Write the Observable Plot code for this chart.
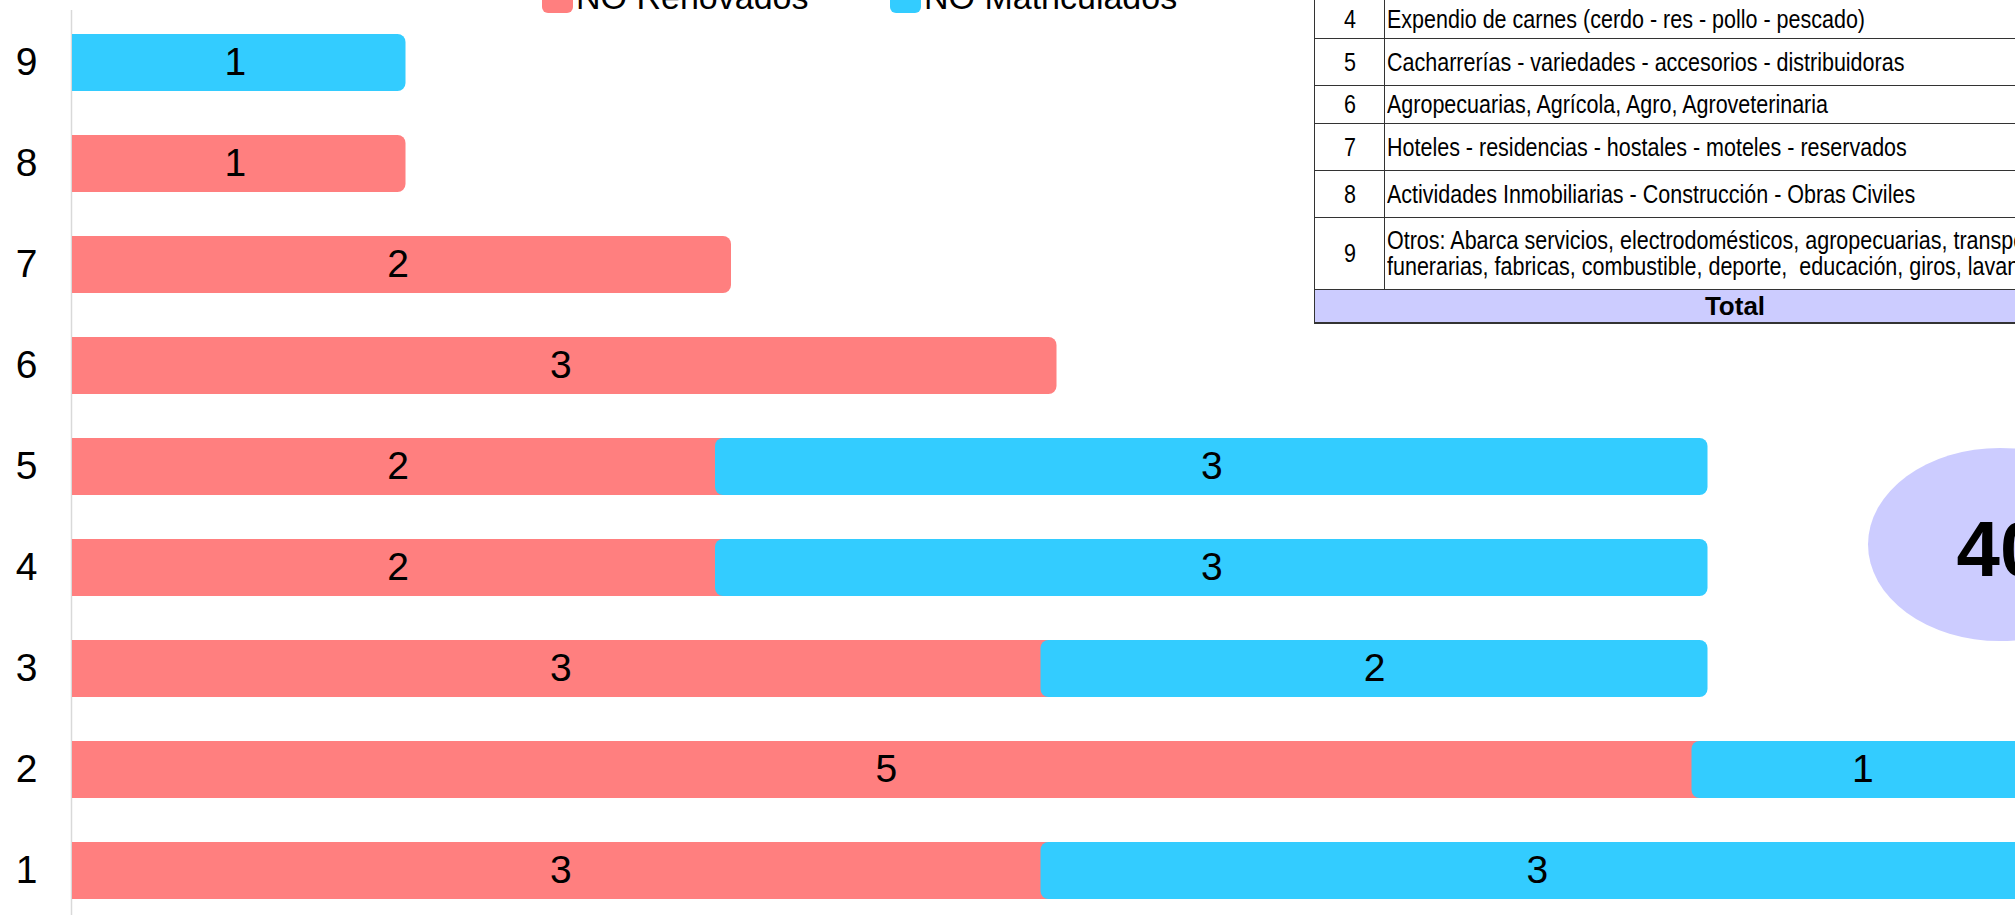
<!DOCTYPE html>
<html>
<head>
<meta charset="utf-8">
<script src="https://cdn.jsdelivr.net/npm/d3@7"></script>
<script src="https://cdn.jsdelivr.net/npm/@observablehq/plot@0.6"></script>
<style>
html,body{margin:0;padding:0;overflow:hidden;background:#fff;width:2015px;height:915px;}
body{position:relative;font-family:"Liberation Sans",Arial,sans-serif;color:#000;}
#chart{position:absolute;left:0;top:0;}
.legend{position:absolute;top:-20px;display:flex;align-items:flex-start;font-size:34px;line-height:34px;white-space:nowrap;}
.legend .sw{width:31px;height:31px;border-radius:6px;margin-top:2px;margin-right:3px;}
#tabla{position:absolute;left:1314px;top:-1.5px;}
#tabla table{border-collapse:collapse;width:842px;font-size:25px;table-layout:fixed;}
#tabla td{border:1.3px solid #333;padding:0 2px;vertical-align:middle;line-height:26px;white-space:nowrap;overflow:visible;}
#tabla td.num{text-align:center;}
#tabla .narrow{display:inline-block;transform:scaleX(0.86);transform-origin:left center;white-space:nowrap;}
#tabla .line{display:block;line-height:26px;}
#tabla td.num .narrow{transform-origin:center center;}
#tabla tr.total td{background:#ccccff;font-weight:bold;text-align:center;font-size:26px;border-bottom:2px solid #333;}
#total{position:absolute;left:1868px;top:448px;width:264px;height:193px;border-radius:50%;background:#ccccff;display:flex;align-items:center;justify-content:center;font-weight:bold;font-size:78px;box-sizing:border-box;padding-top:9px;}
</style>
</head>
<body>
<div id="chart"></div>
<div id="tabla"></div>
<div id="total"></div>
<script>
const categorias = ["1","2","3","4","5","6","7","8","9"];
const noRenovados = [3,5,3,2,2,3,2,1,0];
const noMatriculados = [3,1,2,3,3,0,0,0,1];
const series = ["NO Renovados","NO Matriculados"];
const colores = ["#ff7f7f","#33ccff"];
const filasTabla = ["4","5","6","7","8","9"];
const descripciones = [
  "Expendio de carnes (cerdo - res - pollo - pescado)",
  "Cacharrerías - variedades - accesorios - distribuidoras",
  "Agropecuarias, Agrícola, Agro, Agroveterinaria",
  "Hoteles - residencias - hostales - moteles - reservados",
  "Actividades Inmobiliarias - Construcción - Obras Civiles",
  "Otros: Abarca servicios, electrodomésticos, agropecuarias, transporte,\nfunerarias, fabricas, combustible, deporte,\u00a0 educación, giros, lavanderías"
];
const alturasFilas = [39, 47, 38, 47, 47, 72];
const etiquetaTotal = "Total";
const totalGeneral = "40";

const segmentos = [];
categorias.forEach((c, i) => {
  if (noRenovados[i] > 0) segmentos.push({cat: c, serie: series[0], x1: 0, x2: noRenovados[i], valor: noRenovados[i]});
});
categorias.forEach((c, i) => {
  if (noMatriculados[i] > 0) segmentos.push({cat: c, serie: series[1], x1: noRenovados[i], x2: noRenovados[i] + noMatriculados[i], valor: noMatriculados[i]});
});

const chart = Plot.plot({
  width: 2015,
  height: 935,
  marginLeft: 72,
  marginRight: 0,
  marginTop: 10,
  marginBottom: 12,
  style: {fontFamily: '"Liberation Sans", Arial, sans-serif', background: "white", overflow: "hidden", maxWidth: "none", color: "black"},
  x: {domain: [0, 6], range: [72, 2025], axis: null},
  y: {domain: categorias.slice().reverse(), paddingInner: 0.44, paddingOuter: 0.22},
  color: {domain: series, range: colores},
  marks: [
    Plot.ruleX([0], {stroke: "#d9d9d9", strokeWidth: 1.5, dx: -1}),
    Plot.barX(segmentos, {x1: "x1", x2: "x2", y: "cat", fill: "serie", insetLeft: -8, insetRight: -8, rx: 8, clip: true}),
    Plot.text(segmentos, {x: d => (d.x1 + d.x2) / 2, y: "cat", text: d => String(d.valor), fontSize: 39, fill: "black"}),
    Plot.axisY({tickSize: 0, tickPadding: 35, fontSize: 39, label: null, fill: "black"})
  ]
});
document.getElementById("chart").appendChild(chart);

// Legend
const legendLeft = [542, 890];
series.forEach((s, i) => {
  const item = document.createElement("div");
  item.className = "legend";
  item.style.left = legendLeft[i] + "px";
  const sw = document.createElement("div");
  sw.className = "sw";
  sw.style.background = colores[i];
  const tx = document.createElement("span");
  tx.textContent = s;
  item.appendChild(sw);
  item.appendChild(tx);
  document.body.appendChild(item);
});

// Table
const table = document.createElement("table");
const cg = document.createElement("colgroup");
const c1 = document.createElement("col"); c1.style.width = "70px";
const c2 = document.createElement("col");
cg.appendChild(c1); cg.appendChild(c2);
table.appendChild(cg);
filasTabla.forEach((n, i) => {
  const tr = document.createElement("tr");
  tr.style.height = alturasFilas[i] + "px";
  const td1 = document.createElement("td");
  td1.className = "num";
  const s1 = document.createElement("span");
  s1.className = "narrow";
  s1.textContent = n;
  td1.appendChild(s1);
  const td2 = document.createElement("td");
  const s2 = document.createElement("span");
  s2.className = "narrow";
  descripciones[i].split("\n").forEach((line) => {
    const ln = document.createElement("span");
    ln.className = "line";
    ln.textContent = line;
    s2.appendChild(ln);
  });
  td2.appendChild(s2);
  tr.appendChild(td1); tr.appendChild(td2);
  table.appendChild(tr);
});
const trT = document.createElement("tr");
trT.className = "total";
trT.style.height = "34px";
const tdT = document.createElement("td");
tdT.colSpan = 2;
tdT.textContent = etiquetaTotal;
trT.appendChild(tdT);
table.appendChild(trT);
document.getElementById("tabla").appendChild(table);

document.getElementById("total").textContent = totalGeneral;
</script>
</body>
</html>
